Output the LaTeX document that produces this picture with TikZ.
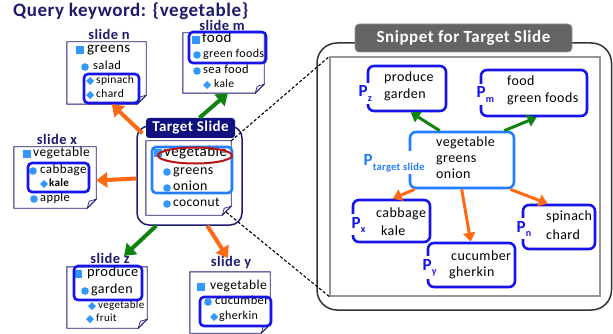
\documentclass[tikz,border=0pt]{standalone}
\usepackage{fontspec}
\setmainfont{Carlito}[LetterSpace=3]
\usetikzlibrary{arrows.meta,fit}

\definecolor{navy}{RGB}{28,28,110}
\definecolor{hdrnavy}{RGB}{16,16,128}
\definecolor{blueb}{RGB}{20,20,235}
\definecolor{ltblue}{RGB}{35,125,255}
\definecolor{bul}{RGB}{50,150,255}
\definecolor{orng}{RGB}{255,105,20}
\definecolor{grn}{RGB}{15,130,15}
\definecolor{redc}{RGB}{185,20,20}
\definecolor{foldc}{RGB}{222,222,240}
\definecolor{frame}{RGB}{50,50,50}
\definecolor{hdrgray}{RGB}{100,100,100}
\definecolor{innergray}{RGB}{150,150,150}

\newcommand\fsz[1]{\fontsize{#1}{#1}\selectfont}

\tikzset{
  slideframe/.style={inner sep=0pt, draw=none},
  slideedge/.style={draw=navy, line width=0.9pt, fill=white},
  foldpart/.style={draw=navy, line width=0.6pt, fill=foldc},
  hl/.style={draw=blueb, line width=2.6pt, rounded corners=4pt},
  item/.style={inner sep=0pt, anchor=west, text height=.68em, text depth=.18em},
  lab/.style={font=\bfseries\fsz{14.5}, text=navy, inner sep=0pt, anchor=base},
  bigarrow/.style={line width=4pt, -{Triangle[length=11pt,width=15pt]}},
  smallarrow/.style={line width=3pt, -{Triangle[length=9pt,width=12pt]}},
  snip/.style={draw=blueb, line width=2.6pt, rounded corners=6pt, inner sep=0pt},
  plab/.style={fill=white, inner sep=2.5pt, anchor=base west, text=blueb, font=\bfseries},
  stext/.style={inner sep=0pt, anchor=west, text height=.68em, text depth=.18em, font=\fsz{14}},
}

% page with a folded corner
\newcommand\slidepage[5]{%
  \node[fit={(#2,#3) (#4,#5)}, slideframe] (#1) {};
  \draw[slideedge] (#1.north west) -- (#1.north east) -- ([yshift=9pt]#1.south east)
    -- ([xshift=-9pt]#1.south east) -- (#1.south west) -- cycle;
  \draw[foldpart] ([yshift=9pt]#1.south east) -- ([xshift=-9pt]#1.south east)
    -- ([xshift=-7pt,yshift=7pt]#1.south east) -- cycle;
}
% bullets
\newcommand\bsq[2]{\fill[bul] ({#1-3.7},{#2-3.7}) rectangle ({#1+3.7},{#2+3.7});}
\newcommand\bci[2]{\fill[bul] (#1,#2) circle[radius=3.8pt];}
\newcommand\bdi[2]{\fill[bul] ({#1},{#2-4}) -- ({#1+4},{#2}) -- ({#1},{#2+4}) -- ({#1-4},{#2}) -- cycle;}
% bullet text
\newcommand\itm[5]{\node[item, font=\fsz{#4}] (#1) at (#2,#3) {#5};}

\begin{document}
\begin{tikzpicture}[x=1pt,y=-1pt]
\useasboundingbox (0,0) rectangle (613,334);

% title
\node[anchor=west, inner sep=0pt, text=navy, font=\bfseries\fsz{19}] (title) at (13,11.5) {Query keyword: \{vegetable\}};

% ---------- slide n
\slidepage{sn}{67}{42}{146}{104}
\node[lab] (snl) at (109,39.5) {slide n};
\bsq{80}{50} \itm{sn1}{87}{50.5}{15}{greens}
\bci{85}{67} \itm{sn2}{93}{67}{12.5}{salad}
\bdi{90}{81} \itm{sn3}{96}{81}{11.5}{spinach}
\bdi{90}{95} \itm{sn4}{96}{95}{11.5}{chard}
\draw[hl] (84,74) rectangle (139,103);

% ---------- slide m
\slidepage{sm}{183}{33}{264}{93}
\node[lab] (sml) at (222,30.5) {slide m};
\bsq{196}{40} \itm{sm1}{202}{40}{15}{food}
\bci{197}{55} \itm{sm2}{203}{55}{12}{green foods}
\bci{197}{71} \itm{sm3}{203}{71}{12.5}{sea food}
\bdi{207}{85} \itm{sm4}{214}{85}{11.5}{kale}
\draw[hl] (189,32) rectangle (266,63);

% ---------- slide x
\slidepage{sx}{14}{147}{96}{208}
\node[lab] (sxl) at (57,144.5) {slide x};
\bsq{27}{154} \itm{sx1}{33}{154}{13.5}{vegetable}
\bci{33}{171} \itm{sx2}{40}{171}{13}{cabbage}
\bdi{44}{184} \itm{sx3}{49}{184}{11}{\bfseries kale}
\bci{34}{199} \itm{sx4}{40}{199}{12.5}{apple}
\draw[hl] (28,163) rectangle (89,192);

% ---------- slide z
\slidepage{sz}{67}{267}{147}{328}
\node[lab] (szl) at (110,263) {slide z};
\bsq{78}{274} \itm{sz1}{87}{274}{14.5}{produce}
\bci{85}{291} \itm{sz2}{91}{291}{14}{garden}
\bdi{92}{306} \itm{sz3}{98}{306}{11}{vegetable}
\bdi{90}{319} \itm{sz4}{96}{319}{11}{fruit}
\draw[hl] (74,266) rectangle (142,300);

% ---------- slide y
\slidepage{sy}{190}{272}{270}{333}
\node[lab] (syl) at (231,266) {slide y};
\bsq{201}{287} \itm{sy1}{210}{287}{13.5}{vegetable}
\bci{208}{302} \itm{sy2}{215}{302}{12.5}{cucumber}
\bdi{214}{317} \itm{sy3}{219}{317}{12}{gherkin}
\draw[hl] (200,297) rectangle (271,326);

% ---------- target slide
\node[fit={(137,126) (242,225)}, inner sep=0pt, draw=navy, line width=1.5pt, rounded corners=12pt] (tout) {};
\node[fill=hdrnavy, rounded corners=3pt, minimum width=89pt, minimum height=20pt, inner sep=0pt,
      text=white, font=\bfseries\fsz{15}] (thdr) at (190.5,128) {Target Slide};
\slidepage{ts}{146}{141}{231}{215}
\bsq{158}{153} \itm{ts1}{164}{154}{15}{vegetable}
\bci{167}{172} \itm{ts2}{173}{172}{14}{greens}
\bci{167}{188} \itm{ts3}{173}{188}{14}{onion}
\bci{167}{204} \itm{ts4}{173}{204}{13.5}{coconut}
\draw[draw=ltblue, line width=2.6pt, rounded corners=4pt] (152,147) rectangle (232,193);
\draw[draw=redc, line width=2pt] (195,155.5) ellipse[x radius=37, y radius=8];

% ---------- arrows between slides
\draw[bigarrow, orng] ([xshift=6pt,yshift=-8pt]tout.north west) -- ([xshift=45pt]sn.south west);
\draw[bigarrow, grn] ([xshift=9pt]thdr.north) -- ([xshift=45pt]sm.south west);
\draw[bigarrow, orng] ([yshift=-3pt]tout.west) -- ([yshift=-3pt]sx.east);
\draw[bigarrow, grn] ([xshift=20pt]tout.south west) -- ([xshift=14pt,yshift=7pt]szl.base);
\draw[bigarrow, orng] ([xshift=71pt]tout.south west) -- ([xshift=-3pt,yshift=8pt]syl.base);

% ---------- snippet panel
\draw[draw=frame, line width=1.5pt, rounded corners=20pt] (317,43) rectangle (611.5,310);
\node[fill=hdrgray, draw=innergray, line width=0.8pt, rounded corners=4pt, minimum width=217pt,
      minimum height=28pt, inner sep=0pt, text=white, font=\bfseries\fsz{17}] (shdr) at (463.5,38) {Snippet for Target Slide};
\node[fit={(330,57) (600,296)}, inner sep=0pt, draw=innergray, line width=1.2pt] (gb) {};

% snippet boxes
\node[snip, fit={(368,66) (446,111)}] (pz) {};
\node[snip, fit={(481,70) (587,116)}] (pm) {};
\node[snip, draw=ltblue, fit={(410,132) (514,188)}] (pt) {};
\node[snip, fit={(353,200) (430,242)}] (px) {};
\node[snip, fit={(523,205) (595,249)}] (pn) {};
\node[snip, fit={(428,243) (515,287)}] (py) {};

% snippet labels
\node[plab] (pzl) at (356,97) {{\fsz{17}P}\raisebox{-4.5pt}{\fsz{10}z}};
\node[plab] (pml) at (474,98) {{\fsz{17}P}\raisebox{-4.5pt}{\fsz{10}m}};
\node[plab, text=ltblue] (ptl) at (361,165) {{\fsz{17}P}\raisebox{-5pt}{\fsz{10.5}target slide}};
\node[plab] (pxl) at (349,228) {{\fsz{17}P}\raisebox{-4.5pt}{\fsz{10}x}};
\node[plab] (pnl) at (514,232) {{\fsz{17}P}\raisebox{-4.5pt}{\fsz{10}n}};
\node[plab] (pyl) at (420,270) {{\fsz{17}P}\raisebox{-4.5pt}{\fsz{10}y}};

% snippet texts
\node[stext] (pz1) at (384,79) {produce};
\node[stext] (pz2) at (384,96) {garden};
\node[stext] (pm1) at (507,83) {food};
\node[stext] (pm2) at (507,100) {green foods};
\node[stext] (pt1) at (436,144) {vegetable};
\node[stext] (pt2) at (436,160) {greens};
\node[stext] (pt3) at (436,176) {onion};
\node[stext] (px1) at (376,215) {cabbage};
\node[stext] (px2) at (381,233) {kale};
\node[stext] (pn1) at (546,218) {spinach};
\node[stext] (pn2) at (546,237) {chard};
\node[stext] (py1) at (451,258) {cucumber};
\node[stext] (py2) at (449,274) {gherkin};

% snippet arrows
\draw[smallarrow, grn] ([xshift=31pt]pt.north west) -- ([xshift=44pt]pz.south west);
\draw[smallarrow, grn] ([xshift=-11pt]pt.north east) -- ([xshift=57pt]pm.south west);
\draw[smallarrow, orng] ([xshift=6pt]pt.south west) -- ([xshift=41pt]px.north west);
\draw[smallarrow, orng] ([xshift=53pt]pt.south west) -- ([xshift=44pt]py.north west);
\draw[smallarrow, orng] ([xshift=-5pt]pt.south east) -- ([xshift=26pt]pn.north west);

% zoom guides from the target slide to the snippet panel
\draw[dashed, line width=1.1pt, dash pattern=on 3pt off 2pt] (ts.north east) -- (gb.north west);
\draw[dashed, line width=1.1pt, dash pattern=on 3pt off 2pt] ([xshift=-5pt,yshift=3pt]ts.south east) -- (gb.south west);
\end{tikzpicture}
\end{document}
